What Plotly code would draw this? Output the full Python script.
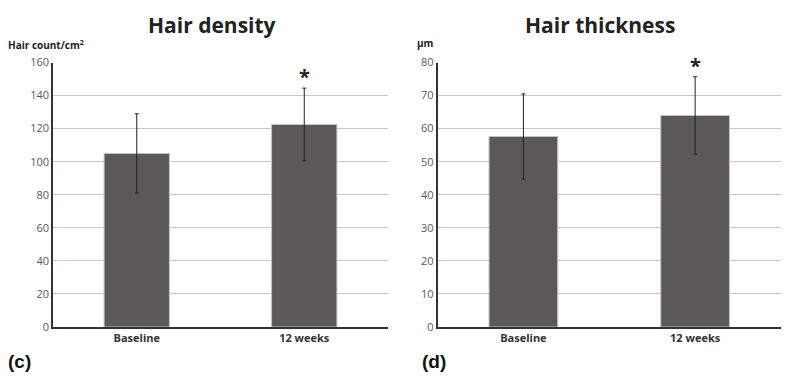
import plotly.graph_objects as go

categories = ["Baseline", "12 weeks"]
density_mean = [105, 122.5]
density_err = [24, 22]
thickness_mean = [57.6, 64]
thickness_err = [12.9, 11.7]
density_ticks = [0, 20, 40, 60, 80, 100, 120, 140, 160]
thickness_ticks = [0, 10, 20, 30, 40, 50, 60, 70, 80]
significant = [False, True]

W, H = 799, 380
OFF = 8  # page body margin
BAR = "#5a5859"
FONT = "Open Sans, Liberation Sans, sans-serif"
ARIAL = "Liberation Sans, Arial, sans-serif"

fig = go.Figure()
fig.add_trace(go.Bar(x=categories, y=density_mean, width=0.39,
                     marker=dict(color=BAR, line=dict(color="#c4c4c4", width=1)),
                     error_y=dict(type="data", array=density_err, color="#222", thickness=1, width=2),
                     xaxis="x", yaxis="y", showlegend=False))
fig.add_trace(go.Bar(x=categories, y=thickness_mean, width=0.4,
                     marker=dict(color=BAR, line=dict(color="#c4c4c4", width=1)),
                     error_y=dict(type="data", array=thickness_err, color="#222", thickness=1, width=2),
                     xaxis="x2", yaxis="y2", showlegend=False))

def px_x(p):
    return (p - OFF) / W

def px_y(p):
    return 1 - (p - OFF) / H

ydom = [px_y(327), px_y(62.5)]
common_x = dict(type="category", range=[-0.5, 1.5], showgrid=False, showline=True,
                linecolor="#333", linewidth=1.5, ticks="", fixedrange=True,
                tickfont=dict(family=FONT, size=11, color="#333", weight="bold"), automargin=False)
common_y = dict(showgrid=True, gridcolor="#c6c6c6", gridwidth=1, showline=True,
                linecolor="#333", linewidth=1.5, ticks="", zeroline=False,
                tickfont=dict(family=FONT, size=11, color="#595959"), automargin=False)

fig.update_layout(
    width=W, height=H, margin=dict(l=0, r=0, t=0, b=0),
    paper_bgcolor="white", plot_bgcolor="white", bargap=0.6,
    xaxis=dict(domain=[px_x(53), px_x(388)], anchor="y", **common_x),
    yaxis=dict(domain=ydom, range=[0, 160], tickvals=density_ticks, anchor="x", **common_y),
    xaxis2=dict(domain=[px_x(437.5), px_x(781)], anchor="y2", **common_x),
    yaxis2=dict(domain=ydom, range=[0, 80], tickvals=thickness_ticks, anchor="x2", **common_y),
)

def label(text, x, y, size, color="#222", bold=True, xanchor="center", family=FONT):
    return dict(text=text, x=px_x(x), y=px_y(y), xref="paper", yref="paper",
                xanchor=xanchor, yanchor="middle", showarrow=False,
                font=dict(family=family, size=size, color=color, weight="bold" if bold else "normal"))

ann = [
    label("Hair density", 212, 25, 21),
    label("Hair thickness", 600, 25, 21),
    label("Hair count/cm<sup>2</sup>", 6, 45, 10, xanchor="left"),
    label("µm", 415, 43, 10, xanchor="left"),
    label("(c)", 6, 361, 19, color="#111", xanchor="left", family=ARIAL),
    label("(d)", 420, 361, 19, color="#111", xanchor="left", family=ARIAL),
]
for i, sig in enumerate(significant):
    if sig:
        ann.append(dict(text="<b>*</b>", x=categories[i], y=density_mean[i] + density_err[i], xref="x", yref="y",
                        yanchor="bottom", yshift=-4, showarrow=False,
                        font=dict(family=FONT, size=20, color="#222")))
        ann.append(dict(text="<b>*</b>", x=categories[i], y=thickness_mean[i] + thickness_err[i], xref="x2", yref="y2",
                        yanchor="bottom", yshift=-4, showarrow=False,
                        font=dict(family=FONT, size=20, color="#222")))
fig.update_layout(annotations=ann)

fig.write_html("out.html")
